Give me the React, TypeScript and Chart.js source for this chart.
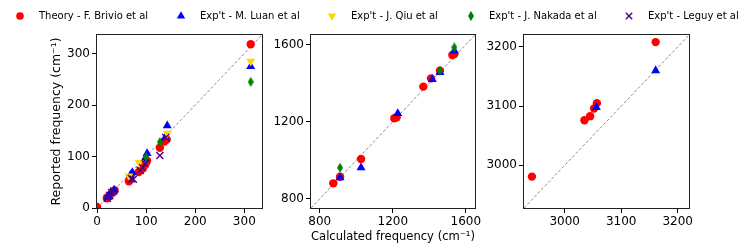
import React, { useEffect, useRef } from "react";
import { Chart, registerables } from "chart.js";

Chart.register(...registerables);

// ---------- Series names ----------
const SERIES_NAMES = [
  "Theory - F. Brivio et al",
  "Exp't - M. Luan et al",
  "Exp't - J. Qiu et al",
  "Exp't - J. Nakada et al",
  "Exp't - Leguy et al",
];
const SERIES_COLORS = ["#ff0000", "#0000ff", "#ffd700", "#008000", "#4b0082"];

// ---------- Panel 1: low frequency modes [calculated, reported] ----------
const P1_THEORY = [
  [0, 2], [20, 19], [24, 23], [28, 27], [32, 31], [36, 34],
  [65, 52], [68, 55], [85, 70], [90, 74], [95, 80], [100, 88], [102, 92],
  [128, 117], [137, 129], [142, 133], [313, 318],
];
const P1_LUAN = [
  [22, 21], [28, 29], [35, 35], [68, 64], [72, 69], [98, 96], [102, 106],
  [139, 137], [143, 160], [313, 275],
];
const P1_QIU = [[65, 62], [86, 88], [143, 145], [313, 285]];
const P1_NAKADA = [[100, 99], [128, 128], [313, 245]];
const P1_LEGUY = [
  [21, 19], [26, 24], [30, 30], [34, 33], [70, 57], [74, 56],
  [88, 73], [93, 78], [98, 86], [128, 102], [140, 137],
];
const P1_LIMITS = [0, 336];
const P1_TICKS = [0, 100, 200, 300];

// ---------- Panel 2: mid frequency modes ----------
const P2_THEORY = [
  [874, 880], [911, 914], [1026, 1006], [1208, 1218], [1221, 1223],
  [1367, 1382], [1409, 1425], [1458, 1465], [1526, 1546], [1537, 1551],
];
const P2_LUAN = [
  [911, 909], [1026, 961], [1227, 1243], [1416, 1420], [1458, 1456], [1537, 1568],
];
const P2_QIU: number[][] = [];
const P2_NAKADA = [[911, 961], [1458, 1465], [1537, 1586]];
const P2_LEGUY: number[][] = [];
const P2_LIMITS = [752, 1650];
const P2_TICKS = [800, 1200, 1600];

// ---------- Panel 3: high frequency modes ----------
const P3_THEORY = [
  [2942, 2981], [3035, 3076], [3045, 3083], [3052, 3096], [3057, 3105], [3161, 3208],
];
const P3_LUAN = [[3056, 3098], [3161, 3160]];
const P3_QIU: number[][] = [];
const P3_NAKADA: number[][] = [];
const P3_LEGUY: number[][] = [];
const P3_LIMITS = [2928, 3220];
const P3_TICKS = [3000, 3100, 3200];

const X_TITLE = "Calculated frequency (cm\u207B\u00B9)";
const Y_TITLE = "Reported frequency (cm\u207B\u00B9)";

const FONT = "DejaVu Sans";

const framePlugin = {
  id: "frame",
  afterDatasetsDraw(chart: any) {
    const { ctx, chartArea } = chart;
    const l = Math.round(chartArea.left);
    const t = Math.round(chartArea.top);
    const r = Math.round(chartArea.right);
    const b = Math.round(chartArea.bottom);
    ctx.save();
    ctx.strokeStyle = "#222";
    ctx.lineWidth = 1;
    ctx.strokeRect(l - 0.5, t - 0.5, r - l + 1, b - t + 1);
    ctx.restore();
  },
};

function makeThinDiamond(color: string) {
  const c = document.createElement("canvas");
  c.width = 6;
  c.height = 10;
  const g = c.getContext("2d")!;
  g.fillStyle = color;
  g.beginPath();
  g.moveTo(3, 0);
  g.lineTo(6, 5);
  g.lineTo(3, 10);
  g.lineTo(0, 5);
  g.closePath();
  g.fill();
  return c;
}

type PanelCfg = {
  series: number[][][];
  limits: number[];
  ticks: number[];
  left: number;
  right: number;
  yWidth: number;
  xTitle?: string;
  yTitle?: string;
};

const PANELS: PanelCfg[] = [
  {
    series: [P1_THEORY, P1_LUAN, P1_QIU, P1_NAKADA, P1_LEGUY],
    limits: P1_LIMITS, ticks: P1_TICKS, left: 97, right: 262, yWidth: 47.5, yTitle: Y_TITLE,
  },
  {
    series: [P2_THEORY, P2_LUAN, P2_QIU, P2_NAKADA, P2_LEGUY],
    limits: P2_LIMITS, ticks: P2_TICKS, left: 311, right: 475, yWidth: 40, xTitle: X_TITLE,
  },
  {
    series: [P3_THEORY, P3_LUAN, P3_QIU, P3_NAKADA, P3_LEGUY],
    limits: P3_LIMITS, ticks: P3_TICKS, left: 524, right: 689, yWidth: 40,
  },
];

const W = 747;
const H = 251;
const TOP = 35;
const BOTTOM = 208;
const X_AXIS_H = 36;

function Panel({ cfg }: { cfg: PanelCfg }) {
  const ref = useRef<HTMLCanvasElement>(null);
  useEffect(() => {
    const diamond = makeThinDiamond(SERIES_COLORS[3]);
    const styles: any[] = [
      { pointStyle: "circle", pointRadius: 4.2, borderWidth: 0 },
      { pointStyle: "triangle", pointRadius: 5.2, borderWidth: 0 },
      { pointStyle: "triangle", pointRadius: 5.2, borderWidth: 0, rotation: 180 },
      { pointStyle: diamond, pointRadius: 4, borderWidth: 0 },
      { pointStyle: "crossRot", pointRadius: 5, borderWidth: 1.4 },
    ];
    const [lo, hi] = cfg.limits;
    const datasets: any[] = [
      {
        type: "line",
        label: "diag",
        data: [{ x: lo, y: lo }, { x: hi, y: hi }],
        borderColor: "#8c8c8c",
        borderWidth: 1,
        borderDash: [3, 2],
        pointRadius: 0,
        fill: false,
        order: 10,
        clip: 0,
      },
    ];
    cfg.series.forEach((pts, i) => {
      datasets.push({
        label: SERIES_NAMES[i],
        data: pts.map(([x, y]) => ({ x, y })),
        backgroundColor: SERIES_COLORS[i],
        borderColor: SERIES_COLORS[i],
        order: 5 - i,
        clip: 0,
        ...styles[i],
      });
    });
    const tickFont = { family: FONT, size: 12 };
    const titleFont = { family: FONT, size: 12.5, lineHeight: 1.2 };
    const axisCommon = (ticks: number[]) => ({
      type: "linear",
      min: lo,
      max: hi,
      afterBuildTicks: (a: any) => {
        a.ticks = ticks.map((v) => ({ value: v }));
      },
      grid: {
        display: true,
        drawOnChartArea: false,
        drawTicks: true,
        tickLength: 5,
        color: "#000",
        lineWidth: 1,
      },
      border: { display: false },
      ticks: {
        font: tickFont,
        color: "#000",
        padding: 2,
        maxRotation: 0,
        autoSkip: false,
        callback: (v: any) => String(v),
      },
    });
    const chart = new Chart(ref.current!, {
      type: "scatter",
      data: { datasets },
      options: {
        animation: false,
        responsive: false,
        devicePixelRatio: 1,
        events: [],
        layout: {
          padding: {
            left: cfg.left - cfg.yWidth,
            right: W - cfg.right,
            top: TOP,
            bottom: H - BOTTOM - X_AXIS_H,
          },
        },
        plugins: { legend: { display: false }, tooltip: { enabled: false } },
        scales: {
          x: {
            ...axisCommon(cfg.ticks),
            position: "bottom",
            afterFit: (a: any) => {
              a.height = X_AXIS_H;
            },
            title: {
              display: !!cfg.xTitle,
              text: cfg.xTitle || "",
              font: titleFont,
              color: "#000",
              padding: 0,
            },
          },
          y: {
            ...axisCommon(cfg.ticks),
            position: "left",
            afterFit: (a: any) => {
              a.width = cfg.yWidth;
            },
            title: {
              display: !!cfg.yTitle,
              text: cfg.yTitle || "",
              font: titleFont,
              color: "#000",
              padding: 0,
            },
          },
        },
      } as any,
      plugins: [framePlugin],
    } as any);
    return () => chart.destroy();
  }, [cfg]);
  return (
    <canvas
      ref={ref}
      width={W}
      height={H}
      style={{ position: "absolute", left: 0, top: 0, width: W, height: H }}
    />
  );
}

const LEGEND_MARKER_X = [20, 181, 332, 471, 629];
const LEGEND_TEXT_X = [39, 200, 351, 489, 648];
const LEGEND_Y = 16;

function LegendMarker({ i }: { i: number }) {
  const c = SERIES_COLORS[i];
  let shape: any = null;
  if (i === 0) shape = <circle cx={6} cy={6} r={3.8} fill={c} />;
  if (i === 1) shape = <polygon points="6,1.2 10.2,8.4 1.8,8.4" fill={c} />;
  if (i === 2) shape = <polygon points="6,10.8 10.2,3.6 1.8,3.6" fill={c} />;
  if (i === 3) shape = <polygon points="6,1 9,6 6,11 3,6" fill={c} />;
  if (i === 4)
    shape = (
      <g stroke={c} strokeWidth={1.4}>
        <line x1={2.8} y1={2.8} x2={9.2} y2={9.2} />
        <line x1={9.2} y1={2.8} x2={2.8} y2={9.2} />
      </g>
    );
  return (
    <svg
      width={12}
      height={12}
      style={{ position: "absolute", left: LEGEND_MARKER_X[i] - 6, top: LEGEND_Y - 6 }}
    >
      {shape}
    </svg>
  );
}

export default function App() {
  return (
    <div
      style={{
        position: "absolute",
        left: 0,
        top: 0,
        width: W,
        height: H,
        background: "#fff",
        overflow: "hidden",
      }}
    >
      {PANELS.map((p, i) => (
        <Panel key={i} cfg={p} />
      ))}
      <div style={{ position: "absolute", left: 0, top: 0, width: W, height: 32 }}>
        {SERIES_NAMES.map((name, i) => (
          <React.Fragment key={i}>
            <LegendMarker i={i} />
            <span
              style={{
                position: "absolute",
                left: LEGEND_TEXT_X[i],
                top: LEGEND_Y - 7,
                fontFamily: FONT,
                fontSize: 10,
                lineHeight: "14px",
                whiteSpace: "nowrap",
                color: "#000",
              }}
            >
              {name}
            </span>
          </React.Fragment>
        ))}
      </div>
    </div>
  );
}
